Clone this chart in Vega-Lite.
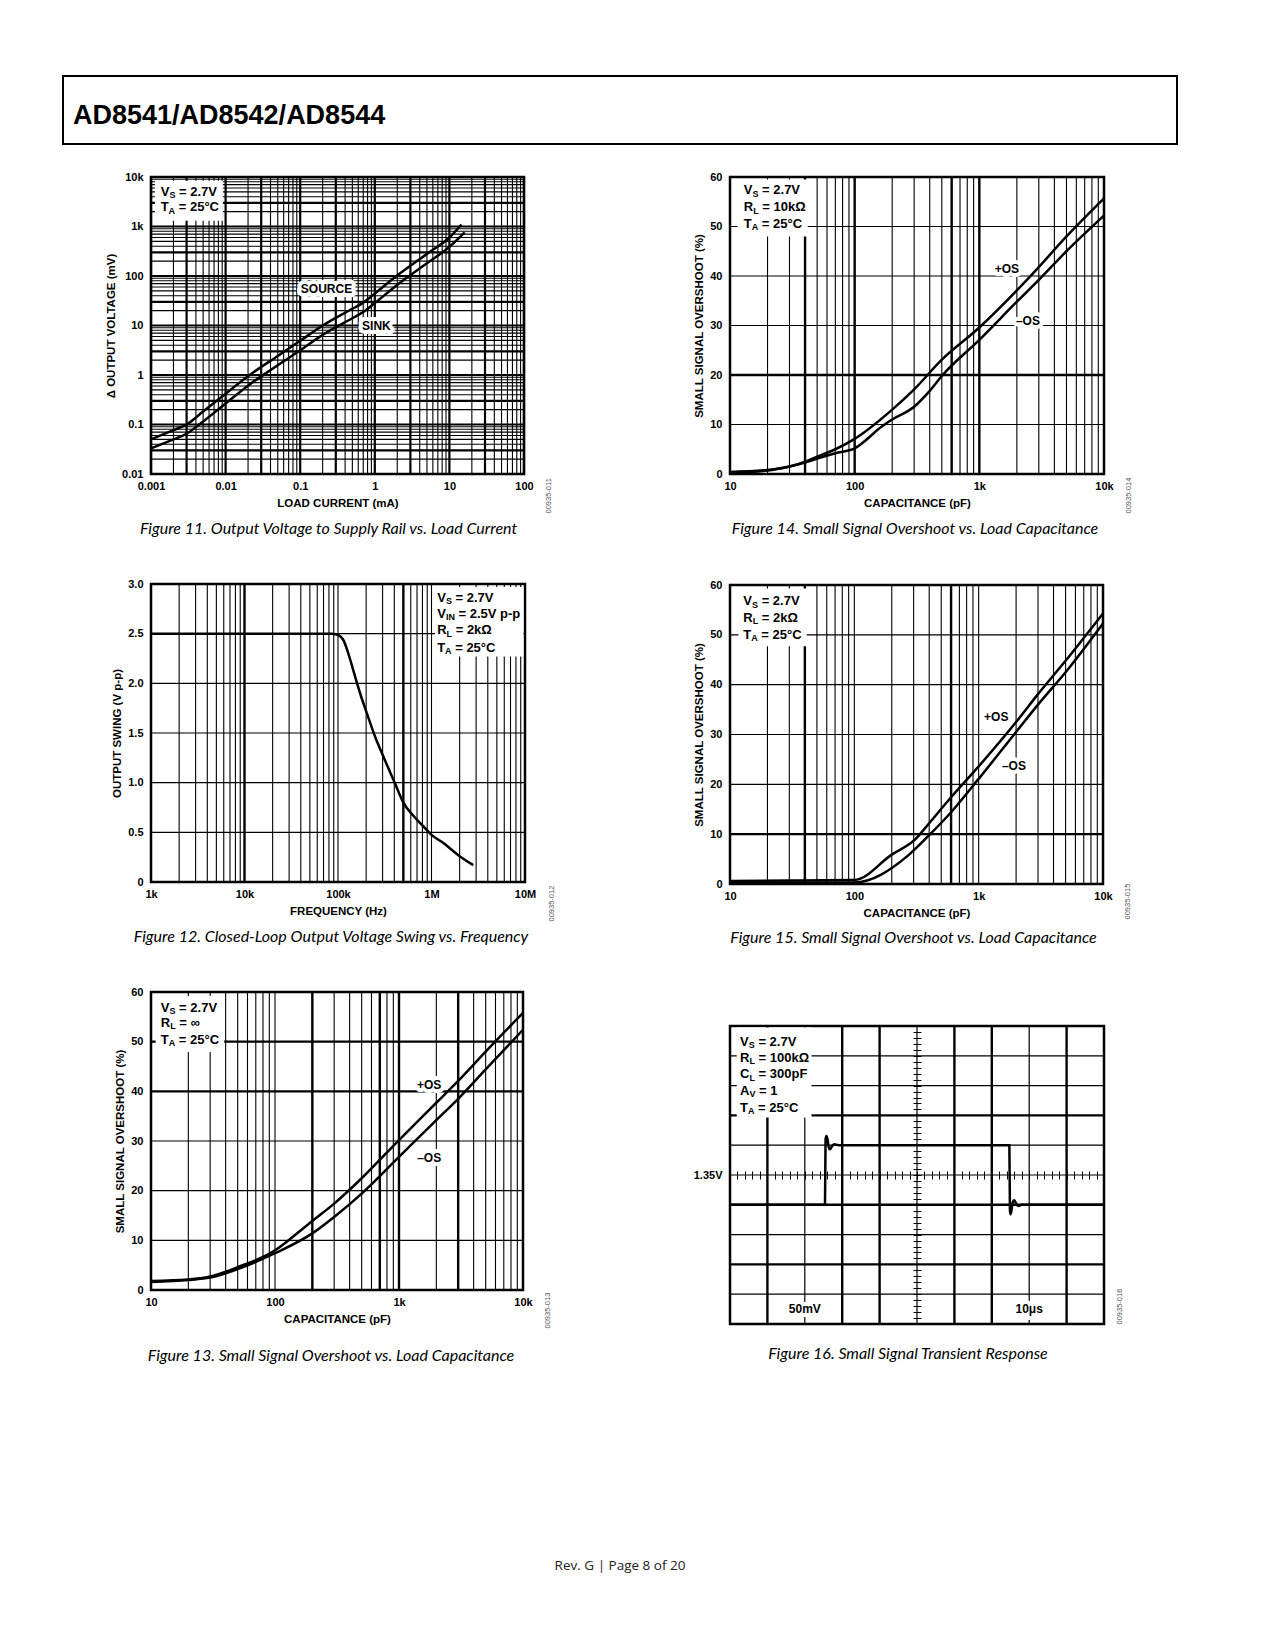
{
"$schema": "https://vega.github.io/schema/vega-lite/v6.json",
"background": "white",
"padding": {"left": 62, "top": 75, "right": 10, "bottom": 10},
"title": {"text": "Rev. G | Page 8 of 20", "orient": "bottom", "anchor": "middle", "font": "Open Sans", "fontStyle": "normal", "fontWeight": "normal", "fontSize": 13.5, "offset": 194, "color": "#222222"},
"spacing": 24,
"datasets": {
"gx11": [{"g":0.001},{"g":0.002},{"g":0.003},{"g":0.004},{"g":0.005},{"g":0.006},{"g":0.007},{"g":0.008},{"g":0.009},{"g":0.01},{"g":0.02},{"g":0.03},{"g":0.04},{"g":0.05},{"g":0.06},{"g":0.07},{"g":0.08},{"g":0.09},{"g":0.1},{"g":0.2},{"g":0.3},{"g":0.4},{"g":0.5},{"g":0.6},{"g":0.7},{"g":0.8},{"g":0.9},{"g":1},{"g":2},{"g":3},{"g":4},{"g":5},{"g":6},{"g":7},{"g":8},{"g":9},{"g":10},{"g":20},{"g":30},{"g":40},{"g":50},{"g":60},{"g":70},{"g":80},{"g":90},{"g":100}],
"gy11": [{"g":0.01},{"g":0.02},{"g":0.03},{"g":0.04},{"g":0.05},{"g":0.06},{"g":0.07},{"g":0.08},{"g":0.09},{"g":0.1},{"g":0.2},{"g":0.3},{"g":0.4},{"g":0.5},{"g":0.6},{"g":0.7},{"g":0.8},{"g":0.9},{"g":1},{"g":2},{"g":3},{"g":4},{"g":5},{"g":6},{"g":7},{"g":8},{"g":9},{"g":10},{"g":20},{"g":30},{"g":40},{"g":50},{"g":60},{"g":70},{"g":80},{"g":90},{"g":100},{"g":200},{"g":300},{"g":400},{"g":500},{"g":600},{"g":700},{"g":800},{"g":900},{"g":1000},{"g":2000},{"g":3000},{"g":4000},{"g":5000},{"g":6000},{"g":7000},{"g":8000},{"g":9000},{"g":10000}],
"gx12": [{"g":1000},{"g":2000},{"g":3000},{"g":4000},{"g":5000},{"g":6000},{"g":7000},{"g":8000},{"g":9000},{"g":10000},{"g":20000},{"g":30000},{"g":40000},{"g":50000},{"g":60000},{"g":70000},{"g":80000},{"g":90000},{"g":100000},{"g":200000},{"g":300000},{"g":400000},{"g":500000},{"g":600000},{"g":700000},{"g":800000},{"g":900000},{"g":1000000},{"g":2000000},{"g":3000000},{"g":4000000},{"g":5000000},{"g":6000000},{"g":7000000},{"g":8000000},{"g":9000000},{"g":10000000}],
"gy12": [{"g":0},{"g":0.5},{"g":1},{"g":1.5},{"g":2},{"g":2.5},{"g":3}],
"gxc": [{"g":10},{"g":20},{"g":30},{"g":40},{"g":50},{"g":60},{"g":70},{"g":80},{"g":90},{"g":100},{"g":200},{"g":300},{"g":400},{"g":500},{"g":600},{"g":700},{"g":800},{"g":900},{"g":1000},{"g":2000},{"g":3000},{"g":4000},{"g":5000},{"g":6000},{"g":7000},{"g":8000},{"g":9000},{"g":10000}],
"gy60": [{"g":0},{"g":10},{"g":20},{"g":30},{"g":40},{"g":50},{"g":60}],
"g16x": [{"g":0},{"g":1},{"g":2},{"g":3},{"g":4},{"g":5},{"g":6},{"g":7},{"g":8},{"g":9},{"g":10}],
"g16y": [{"g":-5},{"g":-4},{"g":-3},{"g":-2},{"g":-1},{"g":0},{"g":1},{"g":2},{"g":3},{"g":4},{"g":5}],
"d11": [
{"s":"SOURCE","i":0.001,"v":0.05},{"s":"SOURCE","i":0.002,"v":0.077},{"s":"SOURCE","i":0.003,"v":0.1},{"s":"SOURCE","i":0.005,"v":0.183},{"s":"SOURCE","i":0.01,"v":0.42},{"s":"SOURCE","i":0.021,"v":1.0},{"s":"SOURCE","i":0.05,"v":2.43},{"s":"SOURCE","i":0.1,"v":4.9},{"s":"SOURCE","i":0.2,"v":10},{"s":"SOURCE","i":0.5,"v":21.8},{"s":"SOURCE","i":0.7,"v":29},{"s":"SOURCE","i":1,"v":44},{"s":"SOURCE","i":1.95,"v":100},{"s":"SOURCE","i":5,"v":280},{"s":"SOURCE","i":10,"v":600},{"s":"SOURCE","i":14.5,"v":1100},
{"s":"SINK","i":0.001,"v":0.033},{"s":"SINK","i":0.002,"v":0.05},{"s":"SINK","i":0.003,"v":0.065},{"s":"SINK","i":0.005,"v":0.115},{"s":"SINK","i":0.01,"v":0.265},{"s":"SINK","i":0.021,"v":0.645},{"s":"SINK","i":0.05,"v":1.57},{"s":"SINK","i":0.1,"v":3.16},{"s":"SINK","i":0.2,"v":6.45},{"s":"SINK","i":0.5,"v":14},{"s":"SINK","i":0.7,"v":18.7},{"s":"SINK","i":1,"v":28.4},{"s":"SINK","i":1.95,"v":64.5},{"s":"SINK","i":5,"v":180},{"s":"SINK","i":10,"v":387},{"s":"SINK","i":16,"v":760}
],
"c11": [{"b":"V","s":"S","r":"= 2.7V","x":0.00135,"y":5040},{"b":"T","s":"A","r":"= 25°C","x":0.00135,"y":2440}],
"l11": [{"t":"SOURCE","x":0.225,"y":54},{"t":"SINK","x":1.05,"y":10}],
"d12": [
{"f":1000,"v":2.5},{"f":10000,"v":2.5},{"f":50000,"v":2.5},{"f":85000,"v":2.5},{"f":95000,"v":2.495},{"f":105000,"v":2.475},{"f":115000,"v":2.43},{"f":125000,"v":2.34},{"f":135000,"v":2.24},{"f":150000,"v":2.09},{"f":175000,"v":1.88},{"f":200000,"v":1.72},{"f":250000,"v":1.46},{"f":300000,"v":1.28},{"f":400000,"v":1.01},{"f":500000,"v":0.8},{"f":650000,"v":0.66},{"f":800000,"v":0.57},{"f":1000000,"v":0.475},{"f":1350000,"v":0.39},{"f":2000000,"v":0.26},{"f":2800000,"v":0.17}
],
"c12": [{"b":"V","s":"S","r":"= 2.7V","x":1150000,"y":2.862},{"b":"V","s":"IN","r":"= 2.5V p-p","x":1150000,"y":2.702},{"b":"R","s":"L","r":"= 2kΩ","x":1150000,"y":2.534},{"b":"T","s":"A","r":"= 25°C","x":1150000,"y":2.36}],
"d13": [
{"s":"+OS","c":10,"o":1.8},{"s":"+OS","c":20,"o":2.1},{"s":"+OS","c":30,"o":2.7},{"s":"+OS","c":50,"o":4.6},{"s":"+OS","c":100,"o":8.0},{"s":"+OS","c":130,"o":10.1},{"s":"+OS","c":200,"o":13.9},{"s":"+OS","c":300,"o":17.4},{"s":"+OS","c":500,"o":22.5},{"s":"+OS","c":1000,"o":30.2},{"s":"+OS","c":2000,"o":37.7},{"s":"+OS","c":3000,"o":42.1},{"s":"+OS","c":5000,"o":48.0},{"s":"+OS","c":10000,"o":55.8},
{"s":"-OS","c":10,"o":1.6},{"s":"-OS","c":20,"o":2.0},{"s":"-OS","c":30,"o":2.5},{"s":"-OS","c":50,"o":4.2},{"s":"-OS","c":100,"o":7.4},{"s":"-OS","c":200,"o":11.4},{"s":"-OS","c":300,"o":14.7},{"s":"-OS","c":500,"o":19.4},{"s":"-OS","c":1000,"o":26.8},{"s":"-OS","c":2000,"o":34.2},{"s":"-OS","c":3000,"o":38.5},{"s":"-OS","c":5000,"o":44.4},{"s":"-OS","c":10000,"o":52.4}
],
"c13": [{"b":"V","s":"S","r":"= 2.7V","x":12.0,"y":56.8},{"b":"R","s":"L","r":"= ∞","x":12.0,"y":53.8},{"b":"T","s":"A","r":"= 25°C","x":12.0,"y":50.4}],
"l13": [{"t":"+OS","x":1750,"y":41.2},{"t":"–OS","x":1750,"y":26.6}],
"d14": [
{"s":"+OS","c":10,"o":0.4},{"s":"+OS","c":20,"o":0.8},{"s":"+OS","c":30,"o":1.5},{"s":"+OS","c":40,"o":2.5},{"s":"+OS","c":50,"o":3.5},{"s":"+OS","c":70,"o":5.0},{"s":"+OS","c":100,"o":7.1},{"s":"+OS","c":200,"o":13.0},{"s":"+OS","c":300,"o":17.1},{"s":"+OS","c":500,"o":23.1},{"s":"+OS","c":1000,"o":29.6},{"s":"+OS","c":2000,"o":37.1},{"s":"+OS","c":3000,"o":41.8},{"s":"+OS","c":5000,"o":48.0},{"s":"+OS","c":10000,"o":55.7},
{"s":"-OS","c":10,"o":0.3},{"s":"-OS","c":20,"o":0.7},{"s":"-OS","c":30,"o":1.5},{"s":"-OS","c":40,"o":2.3},{"s":"-OS","c":50,"o":3.1},{"s":"-OS","c":70,"o":4.2},{"s":"-OS","c":100,"o":5.2},{"s":"-OS","c":167,"o":9.7},{"s":"-OS","c":200,"o":11.0},{"s":"-OS","c":300,"o":13.6},{"s":"-OS","c":400,"o":16.8},{"s":"-OS","c":500,"o":19.8},{"s":"-OS","c":1000,"o":27.1},{"s":"-OS","c":2000,"o":34.8},{"s":"-OS","c":3000,"o":39.2},{"s":"-OS","c":5000,"o":45.0},{"s":"-OS","c":10000,"o":52.2}
],
"c14": [{"b":"V","s":"S","r":"= 2.7V","x":12.9,"y":57.3},{"b":"R","s":"L","r":"= 10kΩ","x":12.9,"y":53.9},{"b":"T","s":"A","r":"= 25°C","x":12.9,"y":50.6}],
"l14": [{"t":"+OS","x":1664,"y":41.4},{"t":"–OS","x":2454,"y":31.0}],
"d15": [
{"s":"+OS","c":10,"o":0.6},{"s":"+OS","c":30,"o":0.7},{"s":"+OS","c":100,"o":0.8},{"s":"+OS","c":200,"o":5.9},{"s":"+OS","c":310,"o":9.0},{"s":"+OS","c":400,"o":12.2},{"s":"+OS","c":600,"o":17.4},{"s":"+OS","c":1000,"o":23.6},{"s":"+OS","c":2000,"o":32.5},{"s":"+OS","c":3000,"o":38.1},{"s":"+OS","c":5000,"o":44.8},{"s":"+OS","c":10000,"o":54.3},
{"s":"-OS","c":10,"o":0.3},{"s":"-OS","c":30,"o":0.3},{"s":"-OS","c":100,"o":0.3},{"s":"-OS","c":270,"o":5.7},{"s":"-OS","c":400,"o":9.8},{"s":"-OS","c":600,"o":14.4},{"s":"-OS","c":1000,"o":21.1},{"s":"-OS","c":2000,"o":30.5},{"s":"-OS","c":3000,"o":36.0},{"s":"-OS","c":5000,"o":42.5},{"s":"-OS","c":10000,"o":52.3}
],
"c15": [{"b":"V","s":"S","r":"= 2.7V","x":12.8,"y":56.7},{"b":"R","s":"L","r":"= 2kΩ","x":12.8,"y":53.4},{"b":"T","s":"A","r":"= 25°C","x":12.8,"y":50.0}],
"l15": [{"t":"+OS","x":1384,"y":33.6},{"t":"–OS","x":1920,"y":23.6}],
"d16": [
{"t":0,"v":-1},{"t":2.54,"v":-1},{"t":2.555,"v":1.2},{"t":2.58,"v":1.31},{"t":2.61,"v":1.18},{"t":2.64,"v":0.93},{"t":2.67,"v":0.86},{"t":2.72,"v":0.95},{"t":2.79,"v":1.03},{"t":2.87,"v":1.01},{"t":2.97,"v":1.0},{"t":7.47,"v":1.0},{"t":7.485,"v":-1.2},{"t":7.5,"v":-1.32},{"t":7.53,"v":-1.15},{"t":7.56,"v":-0.92},{"t":7.595,"v":-0.85},{"t":7.65,"v":-0.95},{"t":7.71,"v":-1.04},{"t":7.8,"v":-1.0},{"t":10,"v":-1}
],
"c16": [{"b":"V","s":"S","r":"= 2.7V","x":0.27,"y":4.47},{"b":"R","s":"L","r":"= 100kΩ","x":0.27,"y":3.94},{"b":"C","s":"L","r":"= 300pF","x":0.27,"y":3.38},{"b":"A","s":"V","r":"= 1","x":0.27,"y":2.82},{"b":"T","s":"A","r":"= 25°C","x":0.27,"y":2.26}],
"l16": [{"t":"50mV","x":2,"y":-4.51},{"t":"10μs","x":8,"y":-4.51}]
},
"vconcat": [
{"width": 1114, "height": 68, "view": {"stroke": "black", "strokeWidth": 2},
 "title": {"text": "AD8541/AD8542/AD8544", "orient": "top", "anchor": "start", "frame": "group", "offset": -75, "dx": 10, "baseline": "alphabetic", "font": "Liberation Sans", "fontSize": 27, "fontWeight": "bold", "fontStyle": "normal", "color": "black"},
 "data": {"values": [{}]}, "mark": {"type": "point", "opacity": 0}, "encoding": {}},
{"hconcat": [
 {"width": 41, "height": 1, "view": {"stroke": null}, "data": {"values": [{}]}, "mark": {"type": "point", "opacity": 0}, "encoding": {}},
 {"hconcat": [
  {"vconcat": [
   {"width": 373, "height": 297,
    "title": {"text": "Figure 11. Output Voltage to Supply Rail vs. Load Current", "dx": -9},
    "resolve": {"axis": {"x": "independent", "y": "independent"}},
    "layer": [
     {"data": {"name": "gx11"}, "mark": {"type": "rule", "color": "black"},
      "encoding": {"x": {"field": "g", "type": "quantitative", "axis": null}, "strokeWidth": {"condition": {"test": "abs(log(datum.g)/LN10 - round(log(datum.g)/LN10)) < 0.001 || abs(log(datum.g/3)/LN10 - round(log(datum.g/3)/LN10)) < 0.001", "value": 2.2}, "value": 1.1}}},
     {"data": {"name": "gy11"}, "mark": {"type": "rule", "color": "black"},
      "encoding": {"y": {"field": "g", "type": "quantitative", "axis": null}, "strokeWidth": {"condition": {"test": "abs(log(datum.g)/LN10 - round(log(datum.g)/LN10)) < 0.001 || abs(log(datum.g/3)/LN10 - round(log(datum.g/3)/LN10)) < 0.001", "value": 2.2}, "value": 1.1}}},
     {"data": {"values": [{}]}, "mark": {"type": "rect", "fill": "white"},
      "encoding": {"x": {"datum": 0.00113, "type": "quantitative", "axis": null}, "x2": {"datum": 0.0092}, "y": {"datum": 1310, "type": "quantitative", "axis": null}, "y2": {"datum": 8400}}},
     {"data": {"name": "d11"}, "mark": {"type": "line", "color": "black", "strokeWidth": 2.5, "interpolate": "monotone"},
      "encoding": {
       "x": {"field": "i", "type": "quantitative", "scale": {"type": "log", "domain": [0.001, 100]},
        "axis": {"orient": "bottom", "title": "LOAD CURRENT (mA)", "grid": false, "values": [0.001, 0.01, 0.1, 1, 10, 100], "format": "~g"}},
       "y": {"field": "v", "type": "quantitative", "scale": {"type": "log", "domain": [0.01, 10000]},
        "axis": {"orient": "left", "title": "Δ OUTPUT VOLTAGE (mV)", "grid": false, "values": [0.01, 0.1, 1, 10, 100, 1000, 10000], "labelExpr": "datum.value >= 1000 ? format(datum.value/1000, '~g') + 'k' : format(datum.value, '~g')"}},
       "detail": {"field": "s"}}},
     {"data": {"name": "c11"}, "mark": {"type": "text", "font": "Liberation Sans", "fontWeight": "bold", "fontSize": 13, "align": "left", "baseline": "middle", "color": "black"},
      "encoding": {"x": {"field": "x", "type": "quantitative", "axis": null}, "y": {"field": "y", "type": "quantitative", "axis": null}, "text": {"field": "b"}}},
     {"data": {"name": "c11"}, "mark": {"type": "text", "font": "Liberation Sans", "fontWeight": "bold", "fontSize": 9, "align": "left", "baseline": "middle", "color": "black", "dy": 3.5, "dx": {"expr": "datum.b === 'T' ? 7.9 : datum.b === 'V' ? 8.7 : 9.4"}},
      "encoding": {"x": {"field": "x", "type": "quantitative", "axis": null}, "y": {"field": "y", "type": "quantitative", "axis": null}, "text": {"field": "s"}}},
     {"data": {"name": "c11"}, "mark": {"type": "text", "font": "Liberation Sans", "fontWeight": "bold", "fontSize": 13, "align": "left", "baseline": "middle", "color": "black", "dx": {"expr": "datum.s === 'IN' ? 21.3 : datum.b === 'T' ? 18 : datum.b === 'A' ? 19 : datum.b === 'V' ? 18.3 : 18.5"}},
      "encoding": {"x": {"field": "x", "type": "quantitative", "axis": null}, "y": {"field": "y", "type": "quantitative", "axis": null}, "text": {"field": "r"}}},
     {"data": {"name": "l11"}, "mark": {"type": "text", "font": "Liberation Sans", "fontWeight": "bold", "fontSize": 12, "align": "center", "baseline": "middle", "fill": "white", "stroke": "white", "strokeWidth": 8, "strokeJoin": "round"},
      "encoding": {"x": {"field": "x", "type": "quantitative", "axis": null}, "y": {"field": "y", "type": "quantitative", "axis": null}, "text": {"field": "t"}}},
     {"data": {"name": "l11"}, "mark": {"type": "text", "font": "Liberation Sans", "fontWeight": "bold", "fontSize": 12, "align": "center", "baseline": "middle", "color": "black"},
      "encoding": {"x": {"field": "x", "type": "quantitative", "axis": null}, "y": {"field": "y", "type": "quantitative", "axis": null}, "text": {"field": "t"}}},
     {"data": {"values": [{}]}, "mark": {"type": "rule", "opacity": 0},
      "encoding": {"y": {"datum": 1, "type": "quantitative", "axis": {"orient": "right", "title": "00935-011", "labels": false, "ticks": false, "domain": false, "grid": false, "titleAngle": 270, "titleAlign": "left", "titleBaseline": "middle", "titleX": 24, "titleY": 336, "titleFontSize": 7.5, "titleFontWeight": "normal", "titleColor": "#555555"}}}}
    ]},
   {"width": 374, "height": 298,
    "title": {"text": "Figure 12. Closed-Loop Output Voltage Swing vs. Frequency", "dx": -7},
    "resolve": {"axis": {"x": "independent", "y": "independent"}},
    "layer": [
     {"data": {"name": "gx12"}, "mark": {"type": "rule", "color": "black"},
      "encoding": {"x": {"field": "g", "type": "quantitative", "axis": null}, "strokeWidth": {"condition": {"test": "indexof([10000, 500000], datum.g) >= 0", "value": 2.4}, "value": 1.1}}},
     {"data": {"name": "gy12"}, "mark": {"type": "rule", "color": "black", "strokeWidth": 1.1},
      "encoding": {"y": {"field": "g", "type": "quantitative", "axis": null}}},
     {"data": {"values": [{}]}, "mark": {"type": "rect", "fill": "white"},
      "encoding": {"x": {"datum": 1090000, "type": "quantitative", "axis": null}, "x2": {"datum": 9600000}, "y": {"datum": 2.27, "type": "quantitative", "axis": null}, "y2": {"datum": 2.97}}},
     {"data": {"name": "d12"}, "mark": {"type": "line", "color": "black", "strokeWidth": 2.5, "interpolate": "monotone"},
      "encoding": {
       "x": {"field": "f", "type": "quantitative", "scale": {"type": "log", "domain": [1000, 10000000]},
        "axis": {"orient": "bottom", "title": "FREQUENCY (Hz)", "grid": false, "values": [1000, 10000, 100000, 1000000, 10000000], "labelExpr": "datum.value >= 1000000 ? format(datum.value/1000000, '~g') + 'M' : format(datum.value/1000, '~g') + 'k'"}},
       "y": {"field": "v", "type": "quantitative", "scale": {"domain": [0, 3], "nice": false},
        "axis": {"orient": "left", "title": "OUTPUT SWING (V p-p)", "grid": false, "values": [0, 0.5, 1, 1.5, 2, 2.5, 3], "labelExpr": "datum.value == 0 ? '0' : format(datum.value, '.1f')"}}}},
     {"data": {"name": "c12"}, "mark": {"type": "text", "font": "Liberation Sans", "fontWeight": "bold", "fontSize": 13, "align": "left", "baseline": "middle", "color": "black"},
      "encoding": {"x": {"field": "x", "type": "quantitative", "axis": null}, "y": {"field": "y", "type": "quantitative", "axis": null}, "text": {"field": "b"}}},
     {"data": {"name": "c12"}, "mark": {"type": "text", "font": "Liberation Sans", "fontWeight": "bold", "fontSize": 9, "align": "left", "baseline": "middle", "color": "black", "dy": 3.5, "dx": {"expr": "datum.b === 'T' ? 7.9 : datum.b === 'V' ? 8.7 : 9.4"}},
      "encoding": {"x": {"field": "x", "type": "quantitative", "axis": null}, "y": {"field": "y", "type": "quantitative", "axis": null}, "text": {"field": "s"}}},
     {"data": {"name": "c12"}, "mark": {"type": "text", "font": "Liberation Sans", "fontWeight": "bold", "fontSize": 13, "align": "left", "baseline": "middle", "color": "black", "dx": {"expr": "datum.s === 'IN' ? 21.3 : datum.b === 'T' ? 18 : datum.b === 'A' ? 19 : datum.b === 'V' ? 18.3 : 18.5"}},
      "encoding": {"x": {"field": "x", "type": "quantitative", "axis": null}, "y": {"field": "y", "type": "quantitative", "axis": null}, "text": {"field": "r"}}},
     {"data": {"values": [{}]}, "mark": {"type": "rule", "opacity": 0},
      "encoding": {"y": {"datum": 1, "type": "quantitative", "axis": {"orient": "right", "title": "00935-012", "labels": false, "ticks": false, "domain": false, "grid": false, "titleAngle": 270, "titleAlign": "left", "titleBaseline": "middle", "titleX": 26, "titleY": 337, "titleFontSize": 7.5, "titleFontWeight": "normal", "titleColor": "#555555"}}}}
    ]},
   {"width": 372, "height": 298,
    "title": {"text": "Figure 13. Small Signal Overshoot vs. Load Capacitance", "dx": -6, "offset": 20},
    "resolve": {"axis": {"x": "independent", "y": "independent"}},
    "layer": [
     {"data": {"name": "gxc"}, "mark": {"type": "rule", "color": "black"},
      "encoding": {"x": {"field": "g", "type": "quantitative", "axis": null}, "strokeWidth": {"condition": {"test": "indexof([200, 700, 1000, 3000], datum.g) >= 0", "value": 2.4}, "value": 1.1}}},
     {"data": {"name": "gy60"}, "mark": {"type": "rule", "color": "black"},
      "encoding": {"y": {"field": "g", "type": "quantitative", "axis": null}, "strokeWidth": {"condition": {"test": "indexof([40, 50], datum.g) >= 0", "value": 2.4}, "value": 1.1}}},
     {"data": {"values": [{}]}, "mark": {"type": "rect", "fill": "white"},
      "encoding": {"x": {"datum": 10.9, "type": "quantitative", "axis": null}, "x2": {"datum": 38.9}, "y": {"datum": 47.9, "type": "quantitative", "axis": null}, "y2": {"datum": 59.2}}},
     {"data": {"name": "d13"}, "mark": {"type": "line", "color": "black", "strokeWidth": 2.5, "interpolate": "monotone"},
      "encoding": {
       "x": {"field": "c", "type": "quantitative", "scale": {"type": "log", "domain": [10, 10000]},
        "axis": {"orient": "bottom", "title": "CAPACITANCE (pF)", "grid": false, "values": [10, 100, 1000, 10000], "labelExpr": "datum.value >= 1000 ? format(datum.value/1000, '~g') + 'k' : format(datum.value, '~g')"}},
       "y": {"field": "o", "type": "quantitative", "scale": {"domain": [0, 60], "nice": false},
        "axis": {"orient": "left", "title": "SMALL SIGNAL OVERSHOOT (%)", "grid": false, "values": [0, 10, 20, 30, 40, 50, 60]}},
       "detail": {"field": "s"}}},
     {"data": {"name": "c13"}, "mark": {"type": "text", "font": "Liberation Sans", "fontWeight": "bold", "fontSize": 13, "align": "left", "baseline": "middle", "color": "black"},
      "encoding": {"x": {"field": "x", "type": "quantitative", "axis": null}, "y": {"field": "y", "type": "quantitative", "axis": null}, "text": {"field": "b"}}},
     {"data": {"name": "c13"}, "mark": {"type": "text", "font": "Liberation Sans", "fontWeight": "bold", "fontSize": 9, "align": "left", "baseline": "middle", "color": "black", "dy": 3.5, "dx": {"expr": "datum.b === 'T' ? 7.9 : datum.b === 'V' ? 8.7 : 9.4"}},
      "encoding": {"x": {"field": "x", "type": "quantitative", "axis": null}, "y": {"field": "y", "type": "quantitative", "axis": null}, "text": {"field": "s"}}},
     {"data": {"name": "c13"}, "mark": {"type": "text", "font": "Liberation Sans", "fontWeight": "bold", "fontSize": 13, "align": "left", "baseline": "middle", "color": "black", "dx": {"expr": "datum.s === 'IN' ? 21.3 : datum.b === 'T' ? 18 : datum.b === 'A' ? 19 : datum.b === 'V' ? 18.3 : 18.5"}},
      "encoding": {"x": {"field": "x", "type": "quantitative", "axis": null}, "y": {"field": "y", "type": "quantitative", "axis": null}, "text": {"field": "r"}}},
     {"data": {"name": "l13"}, "mark": {"type": "text", "font": "Liberation Sans", "fontWeight": "bold", "fontSize": 12, "align": "center", "baseline": "middle", "fill": "white", "stroke": "white", "strokeWidth": 8, "strokeJoin": "round"},
      "encoding": {"x": {"field": "x", "type": "quantitative", "axis": null}, "y": {"field": "y", "type": "quantitative", "axis": null}, "text": {"field": "t"}}},
     {"data": {"name": "l13"}, "mark": {"type": "text", "font": "Liberation Sans", "fontWeight": "bold", "fontSize": 12, "align": "center", "baseline": "middle", "color": "black"},
      "encoding": {"x": {"field": "x", "type": "quantitative", "axis": null}, "y": {"field": "y", "type": "quantitative", "axis": null}, "text": {"field": "t"}}},
     {"data": {"values": [{}]}, "mark": {"type": "rule", "opacity": 0},
      "encoding": {"y": {"datum": 1, "type": "quantitative", "axis": {"orient": "right", "title": "00935-013", "labels": false, "ticks": false, "domain": false, "grid": false, "titleAngle": 270, "titleAlign": "left", "titleBaseline": "middle", "titleX": 24, "titleY": 336, "titleFontSize": 7.5, "titleFontWeight": "normal", "titleColor": "#555555"}}}}
    ]}
  ], "spacing": 37},
  {"vconcat": [
   {"vconcat": [
    {"width": 374, "height": 297,
     "title": {"text": "Figure 14. Small Signal Overshoot vs. Load Capacitance", "dx": -2},
     "resolve": {"axis": {"x": "independent", "y": "independent"}},
     "layer": [
      {"data": {"name": "gxc"}, "mark": {"type": "rule", "color": "black"},
       "encoding": {"x": {"field": "g", "type": "quantitative", "axis": null}, "strokeWidth": {"condition": {"test": "indexof([40, 100, 600, 1000], datum.g) >= 0", "value": 2.4}, "value": 1.1}}},
      {"data": {"name": "gy60"}, "mark": {"type": "rule", "color": "black"},
       "encoding": {"y": {"field": "g", "type": "quantitative", "axis": null}, "strokeWidth": {"condition": {"test": "datum.g == 20", "value": 2.4}, "value": 1.1}}},
      {"data": {"values": [{}]}, "mark": {"type": "rect", "fill": "white"},
       "encoding": {"x": {"datum": 11.5, "type": "quantitative", "axis": null}, "x2": {"datum": 42}, "y": {"datum": 48, "type": "quantitative", "axis": null}, "y2": {"datum": 59.5}}},
      {"data": {"name": "d14"}, "mark": {"type": "line", "color": "black", "strokeWidth": 2.5, "interpolate": "monotone"},
       "encoding": {
        "x": {"field": "c", "type": "quantitative", "scale": {"type": "log", "domain": [10, 10000]},
         "axis": {"orient": "bottom", "title": "CAPACITANCE (pF)", "grid": false, "values": [10, 100, 1000, 10000], "labelExpr": "datum.value >= 1000 ? format(datum.value/1000, '~g') + 'k' : format(datum.value, '~g')"}},
        "y": {"field": "o", "type": "quantitative", "scale": {"domain": [0, 60], "nice": false},
         "axis": {"orient": "left", "title": "SMALL SIGNAL OVERSHOOT (%)", "grid": false, "values": [0, 10, 20, 30, 40, 50, 60]}},
        "detail": {"field": "s"}}},
      {"data": {"name": "c14"}, "mark": {"type": "text", "font": "Liberation Sans", "fontWeight": "bold", "fontSize": 13, "align": "left", "baseline": "middle", "color": "black"},
       "encoding": {"x": {"field": "x", "type": "quantitative", "axis": null}, "y": {"field": "y", "type": "quantitative", "axis": null}, "text": {"field": "b"}}},
      {"data": {"name": "c14"}, "mark": {"type": "text", "font": "Liberation Sans", "fontWeight": "bold", "fontSize": 9, "align": "left", "baseline": "middle", "color": "black", "dy": 3.5, "dx": {"expr": "datum.b === 'T' ? 7.9 : datum.b === 'V' ? 8.7 : 9.4"}},
       "encoding": {"x": {"field": "x", "type": "quantitative", "axis": null}, "y": {"field": "y", "type": "quantitative", "axis": null}, "text": {"field": "s"}}},
      {"data": {"name": "c14"}, "mark": {"type": "text", "font": "Liberation Sans", "fontWeight": "bold", "fontSize": 13, "align": "left", "baseline": "middle", "color": "black", "dx": {"expr": "datum.s === 'IN' ? 21.3 : datum.b === 'T' ? 18 : datum.b === 'A' ? 19 : datum.b === 'V' ? 18.3 : 18.5"}},
       "encoding": {"x": {"field": "x", "type": "quantitative", "axis": null}, "y": {"field": "y", "type": "quantitative", "axis": null}, "text": {"field": "r"}}},
      {"data": {"name": "l14"}, "mark": {"type": "text", "font": "Liberation Sans", "fontWeight": "bold", "fontSize": 12, "align": "center", "baseline": "middle", "fill": "white", "stroke": "white", "strokeWidth": 8, "strokeJoin": "round"},
       "encoding": {"x": {"field": "x", "type": "quantitative", "axis": null}, "y": {"field": "y", "type": "quantitative", "axis": null}, "text": {"field": "t"}}},
      {"data": {"name": "l14"}, "mark": {"type": "text", "font": "Liberation Sans", "fontWeight": "bold", "fontSize": 12, "align": "center", "baseline": "middle", "color": "black"},
       "encoding": {"x": {"field": "x", "type": "quantitative", "axis": null}, "y": {"field": "y", "type": "quantitative", "axis": null}, "text": {"field": "t"}}},
      {"data": {"values": [{}]}, "mark": {"type": "rule", "opacity": 0},
       "encoding": {"y": {"datum": 1, "type": "quantitative", "axis": {"orient": "right", "title": "00935-014", "labels": false, "ticks": false, "domain": false, "grid": false, "titleAngle": 270, "titleAlign": "left", "titleBaseline": "middle", "titleX": 24, "titleY": 336, "titleFontSize": 7.5, "titleFontWeight": "normal", "titleColor": "#555555"}}}}
     ]},
    {"width": 373, "height": 299,
     "title": {"text": "Figure 15. Small Signal Overshoot vs. Load Capacitance", "dx": -3, "offset": 11},
     "resolve": {"axis": {"x": "independent", "y": "independent"}},
     "layer": [
      {"data": {"name": "gxc"}, "mark": {"type": "rule", "color": "black"},
       "encoding": {"x": {"field": "g", "type": "quantitative", "axis": null}, "strokeWidth": {"condition": {"test": "indexof([40, 600], datum.g) >= 0", "value": 2.4}, "value": 1.1}}},
      {"data": {"name": "gy60"}, "mark": {"type": "rule", "color": "black"},
       "encoding": {"y": {"field": "g", "type": "quantitative", "axis": null}, "strokeWidth": {"condition": {"test": "datum.g == 10", "value": 2.4}, "value": 1.1}}},
      {"data": {"values": [{}]}, "mark": {"type": "rect", "fill": "white"},
       "encoding": {"x": {"datum": 11.7, "type": "quantitative", "axis": null}, "x2": {"datum": 41.4}, "y": {"datum": 47.7, "type": "quantitative", "axis": null}, "y2": {"datum": 59.3}}},
      {"data": {"name": "d15"}, "mark": {"type": "line", "color": "black", "strokeWidth": 2.5, "interpolate": "monotone"},
       "encoding": {
        "x": {"field": "c", "type": "quantitative", "scale": {"type": "log", "domain": [10, 10000]},
         "axis": {"orient": "bottom", "title": "CAPACITANCE (pF)", "grid": false, "values": [10, 100, 1000, 10000], "labelExpr": "datum.value >= 1000 ? format(datum.value/1000, '~g') + 'k' : format(datum.value, '~g')"}},
        "y": {"field": "o", "type": "quantitative", "scale": {"domain": [0, 60], "nice": false},
         "axis": {"orient": "left", "title": "SMALL SIGNAL OVERSHOOT (%)", "grid": false, "values": [0, 10, 20, 30, 40, 50, 60]}},
        "detail": {"field": "s"}}},
      {"data": {"name": "c15"}, "mark": {"type": "text", "font": "Liberation Sans", "fontWeight": "bold", "fontSize": 13, "align": "left", "baseline": "middle", "color": "black"},
       "encoding": {"x": {"field": "x", "type": "quantitative", "axis": null}, "y": {"field": "y", "type": "quantitative", "axis": null}, "text": {"field": "b"}}},
      {"data": {"name": "c15"}, "mark": {"type": "text", "font": "Liberation Sans", "fontWeight": "bold", "fontSize": 9, "align": "left", "baseline": "middle", "color": "black", "dy": 3.5, "dx": {"expr": "datum.b === 'T' ? 7.9 : datum.b === 'V' ? 8.7 : 9.4"}},
       "encoding": {"x": {"field": "x", "type": "quantitative", "axis": null}, "y": {"field": "y", "type": "quantitative", "axis": null}, "text": {"field": "s"}}},
      {"data": {"name": "c15"}, "mark": {"type": "text", "font": "Liberation Sans", "fontWeight": "bold", "fontSize": 13, "align": "left", "baseline": "middle", "color": "black", "dx": {"expr": "datum.s === 'IN' ? 21.3 : datum.b === 'T' ? 18 : datum.b === 'A' ? 19 : datum.b === 'V' ? 18.3 : 18.5"}},
       "encoding": {"x": {"field": "x", "type": "quantitative", "axis": null}, "y": {"field": "y", "type": "quantitative", "axis": null}, "text": {"field": "r"}}},
      {"data": {"name": "l15"}, "mark": {"type": "text", "font": "Liberation Sans", "fontWeight": "bold", "fontSize": 12, "align": "center", "baseline": "middle", "fill": "white", "stroke": "white", "strokeWidth": 8, "strokeJoin": "round"},
       "encoding": {"x": {"field": "x", "type": "quantitative", "axis": null}, "y": {"field": "y", "type": "quantitative", "axis": null}, "text": {"field": "t"}}},
      {"data": {"name": "l15"}, "mark": {"type": "text", "font": "Liberation Sans", "fontWeight": "bold", "fontSize": 12, "align": "center", "baseline": "middle", "color": "black"},
       "encoding": {"x": {"field": "x", "type": "quantitative", "axis": null}, "y": {"field": "y", "type": "quantitative", "axis": null}, "text": {"field": "t"}}},
      {"data": {"values": [{}]}, "mark": {"type": "rule", "opacity": 0},
       "encoding": {"y": {"datum": 1, "type": "quantitative", "axis": {"orient": "right", "title": "00935-015", "labels": false, "ticks": false, "domain": false, "grid": false, "titleAngle": 270, "titleAlign": "left", "titleBaseline": "middle", "titleX": 24, "titleY": 334, "titleFontSize": 7.5, "titleFontWeight": "normal", "titleColor": "#555555"}}}}
     ]}
   ], "spacing": 38},
   {"width": 374, "height": 298,
    "title": {"text": "Figure 16. Small Signal Transient Response", "dx": -9, "offset": 21},
    "resolve": {"axis": {"x": "independent", "y": "independent"}},
    "layer": [
     {"data": {"name": "g16x"}, "mark": {"type": "rule", "color": "black"},
      "encoding": {"x": {"field": "g", "type": "quantitative", "axis": null}, "strokeWidth": {"condition": {"test": "indexof([1, 3, 4, 6, 7, 9], datum.g) >= 0", "value": 2.4}, "value": 1.2}}},
     {"data": {"name": "g16y"}, "mark": {"type": "rule", "color": "black"},
      "encoding": {"y": {"field": "g", "type": "quantitative", "axis": null}, "strokeWidth": {"condition": {"test": "indexof([2, -1, -3], datum.g) >= 0", "value": 2.4}, "value": 1.2}}},
     {"data": {"values": [{}]}, "mark": {"type": "rect", "fill": "white"},
      "encoding": {"x": {"datum": 0.18, "type": "quantitative", "axis": null}, "x2": {"datum": 2.18}, "y": {"datum": 1.93, "type": "quantitative", "axis": null}, "y2": {"datum": 4.95}}},
     {"data": {"name": "d16"}, "mark": {"type": "line", "color": "black", "strokeWidth": 2.5, "interpolate": "monotone"},
      "encoding": {
       "x": {"field": "t", "type": "quantitative", "scale": {"domain": [0, 10], "nice": false}, "axis": null},
       "y": {"field": "v", "type": "quantitative", "scale": {"domain": [-5, 5], "nice": false},
        "axis": {"orient": "left", "title": null, "grid": false, "values": [0], "labelExpr": "'1.35V'"}}}},
     {"data": {"name": "c16"}, "mark": {"type": "text", "font": "Liberation Sans", "fontWeight": "bold", "fontSize": 13, "align": "left", "baseline": "middle", "color": "black"},
      "encoding": {"x": {"field": "x", "type": "quantitative", "axis": null}, "y": {"field": "y", "type": "quantitative", "axis": null}, "text": {"field": "b"}}},
     {"data": {"name": "c16"}, "mark": {"type": "text", "font": "Liberation Sans", "fontWeight": "bold", "fontSize": 9, "align": "left", "baseline": "middle", "color": "black", "dy": 3.5, "dx": {"expr": "datum.b === 'T' ? 7.9 : datum.b === 'V' ? 8.7 : 9.4"}},
      "encoding": {"x": {"field": "x", "type": "quantitative", "axis": null}, "y": {"field": "y", "type": "quantitative", "axis": null}, "text": {"field": "s"}}},
     {"data": {"name": "c16"}, "mark": {"type": "text", "font": "Liberation Sans", "fontWeight": "bold", "fontSize": 13, "align": "left", "baseline": "middle", "color": "black", "dx": {"expr": "datum.s === 'IN' ? 21.3 : datum.b === 'T' ? 18 : datum.b === 'A' ? 19 : datum.b === 'V' ? 18.3 : 18.5"}},
      "encoding": {"x": {"field": "x", "type": "quantitative", "axis": null}, "y": {"field": "y", "type": "quantitative", "axis": null}, "text": {"field": "r"}}},
     {"data": {"name": "l16"}, "mark": {"type": "text", "font": "Liberation Sans", "fontWeight": "bold", "fontSize": 12, "align": "center", "baseline": "middle", "fill": "white", "stroke": "white", "strokeWidth": 8, "strokeJoin": "round"},
      "encoding": {"x": {"field": "x", "type": "quantitative", "axis": null}, "y": {"field": "y", "type": "quantitative", "axis": null}, "text": {"field": "t"}}},
     {"data": {"name": "l16"}, "mark": {"type": "text", "font": "Liberation Sans", "fontWeight": "bold", "fontSize": 12, "align": "center", "baseline": "middle", "color": "black"},
      "encoding": {"x": {"field": "x", "type": "quantitative", "axis": null}, "y": {"field": "y", "type": "quantitative", "axis": null}, "text": {"field": "t"}}},
     {"data": {"values": [{}]}, "mark": {"type": "rule", "opacity": 0},
      "encoding": {"x": {"datum": 5, "type": "quantitative", "axis": {"orient": "top", "offset": -153, "tickCount": 50, "ticks": true, "tickSize": 8, "tickColor": "black", "tickWidth": 1, "labels": false, "domain": false, "grid": false, "title": "00935-016", "titleAngle": 270, "titleAlign": "left", "titleBaseline": "middle", "titleX": 389, "titleY": 145, "titleFontSize": 7.5, "titleFontWeight": "normal", "titleColor": "#555555"}}}},
     {"data": {"values": [{}]}, "mark": {"type": "rule", "opacity": 0},
      "encoding": {"y": {"datum": 0, "type": "quantitative", "axis": {"orient": "right", "offset": -191, "tickCount": 50, "ticks": true, "tickSize": 8, "tickColor": "black", "tickWidth": 1, "labels": false, "domain": false, "grid": false, "title": null}}}}
    ]}
  ], "spacing": 75}
 ], "spacing": 136}
 ], "spacing": 0}
],
"config": {
 "view": {"stroke": "black", "strokeWidth": 2.5},
 "axis": {"labelFont": "Liberation Sans", "labelFontWeight": "bold", "labelFontSize": 11, "labelColor": "black", "titleFont": "Liberation Sans", "titleFontWeight": "bold", "titleFontSize": 11.5, "titleColor": "black", "ticks": false, "domain": false, "grid": false, "labelFlush": false, "labelOverlap": false, "labelPadding": 6, "titlePadding": 6},
 "axisY": {"labelPadding": 8, "titlePadding": 5},
 "title": {"font": "Lato", "fontStyle": "italic", "fontWeight": "normal", "fontSize": 16, "color": "black", "orient": "bottom", "anchor": "middle", "offset": 8}
}
}
